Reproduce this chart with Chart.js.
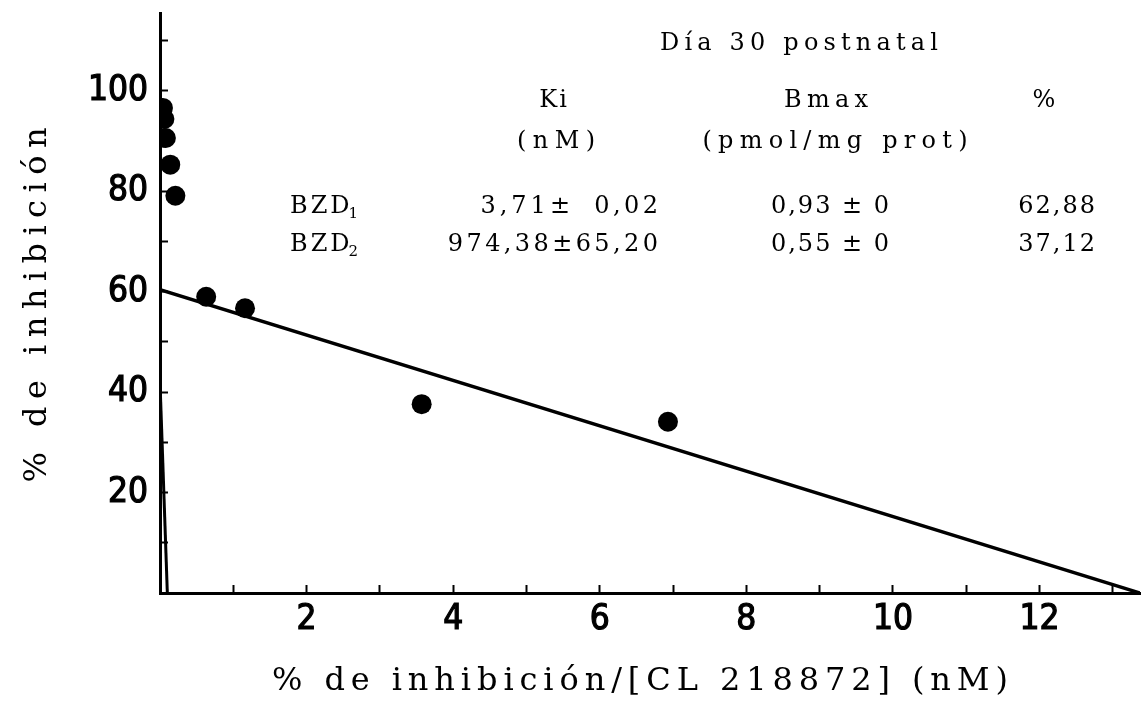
<!DOCTYPE html>
<html><head><meta charset="utf-8">
<script src="https://cdn.jsdelivr.net/npm/chart.js@4.4.1/dist/chart.umd.min.js"></script>
<style>html,body{margin:0;padding:0;background:#fff;overflow:hidden}canvas{display:block}</style>
</head><body>
<canvas id="c" width="1142" height="721"></canvas>
<script>
// ---- data ----
const xTitle = '% de inhibición/[CL 218872] (nM)';
const yTitle = '% de inhibición';
const pointX = [0.04, 0.06, 0.08, 0.14, 0.21, 0.63, 1.16, 3.57, 6.93];
const pointY = [96.6, 94.4, 90.6, 85.3, 79.1, 59.0, 56.7, 37.6, 34.1];
const fitHighX = [0, 13.37];
const fitHighY = [60.4, 0];
const fitLowX = [0, 0.1];
const fitLowY = [42, 0];
const xRange = [0, 13.37];
const yRange = [0, 115.5];
const xLabelTicks = [2, 4, 6, 8, 10, 12];
const yLabelTicks = [20, 40, 60, 80, 100];
const tableTitle = 'Día 30 postnatal';
const colHeads = ['Ki', 'Bmax', '%'];
const colUnits = ['(nM)', '(pmol/mg prot)', ''];
const rowNames = ['BZD', 'BZD'];
const rowSubs = ['1', '2'];
const kiVals = ['3,71± 0,02', '974,38±65,20'];
const bmaxVals = ['0,93 ± 0', '0,55 ± 0'];
const pctVals = ['62,88', '37,12'];

const toXY = (xs, ys) => xs.map((x, i) => ({x, y: ys[i]}));
const tickFont = {family: "'Liberation Sans Narrow', 'DejaVu Sans Condensed', 'DejaVu Sans'", size: 35};

function spacedText(ctx, str, x, y, width, align, fixedSpacing) {
  ctx.letterSpacing = '0px';
  const w = ctx.measureText(str).width;
  const n = [...str].length;
  let s = fixedSpacing || 0;
  if (width) s = Math.max(0, (width - w) / Math.max(1, n - 1));
  ctx.letterSpacing = s + 'px';
  const total = w + s * (n - 1);
  let left = x;
  if (align === 'center') left = x - total / 2;
  else if (align === 'right') left = x - total;
  ctx.textAlign = 'left';
  ctx.fillText(str, left, y);
  ctx.letterSpacing = '0px';
  return left + total;
}

const textPlugin = {
  id: 'texts',
  afterDraw(chart) {
    const ctx = chart.ctx;
    ctx.save();
    ctx.fillStyle = '#000';
    ctx.textBaseline = 'alphabetic';
    ctx.font = '32px "DejaVu Serif"';
    spacedText(ctx, xTitle, 640, 690, 736, 'center');
    ctx.save();
    ctx.translate(46, 305);
    ctx.rotate(-Math.PI / 2);
    spacedText(ctx, yTitle, 0, 0, 355, 'center');
    ctx.restore();

    const sp = 3.4;
    ctx.font = '24px "DejaVu Serif"';
    spacedText(ctx, tableTitle, 799, 50, 278, 'center');
    spacedText(ctx, colHeads[0], 553, 107, 0, 'center', 2);
    spacedText(ctx, colHeads[1], 826, 107, 84, 'center');
    spacedText(ctx, colHeads[2], 1044, 107, 0, 'center', 2);
    spacedText(ctx, colUnits[0], 556, 148, 78, 'center');
    spacedText(ctx, colUnits[1], 835, 148, 265, 'center');
    const rowBase = [213, 251];
    for (let i = 0; i < 2; i++) {
      ctx.font = '24px "DejaVu Serif"';
      const end = spacedText(ctx, rowNames[i], 290, rowBase[i], 0, 'left', 3);
      ctx.font = '15px "DejaVu Serif"';
      ctx.textAlign = 'left';
      ctx.fillText(rowSubs[i], end - 1, rowBase[i] + 5);
      ctx.font = '24px "DejaVu Serif"';
      const ki = kiVals[i];
      const cut = ki.indexOf(' ');
      if (cut > 0) {
        spacedText(ctx, ki.slice(0, cut), 570, rowBase[i], 0, 'right', 4);
        spacedText(ctx, ki.slice(cut + 1), 658, rowBase[i], 0, 'right', sp);
      } else {
        spacedText(ctx, ki, 658, rowBase[i], 0, 'right', sp);
      }
      spacedText(ctx, bmaxVals[i], 830, rowBase[i], 0, 'center', 2);
      spacedText(ctx, pctVals[i], 1095, rowBase[i], 0, 'right', 2);
    }
    ctx.restore();
  }
};

new Chart(document.getElementById('c'), {
  type: 'scatter',
  data: {
    datasets: [
      {data: toXY(fitHighX, fitHighY), showLine: true, borderColor: '#000', borderWidth: 3.5, pointRadius: 0, fill: false},
      {data: toXY(fitLowX, fitLowY), showLine: true, borderColor: '#000', borderWidth: 3, pointRadius: 0, fill: false},
      {data: toXY(pointX, pointY), showLine: false, pointRadius: 10, pointBackgroundColor: '#000', pointBorderColor: '#000', pointBorderWidth: 0,
       clip: {left: 0, top: false, right: false, bottom: false}}
    ]
  },
  options: {
    responsive: false,
    animation: false,
    devicePixelRatio: 1,
    layout: {autoPadding: false, padding: {top: 13, right: 2, left: 0, bottom: 0}},
    plugins: {legend: {display: false}, tooltip: {enabled: false}},
    scales: {
      x: {
        type: 'linear', position: 'bottom', min: xRange[0], max: xRange[1],
        afterFit: s => { s.height = 128; s.paddingLeft = 0; s.paddingRight = 0; },
        ticks: {stepSize: 1, includeBounds: false, autoSkip: false, maxRotation: 0, color: '#000', font: tickFont, padding: 14,
          textStrokeColor: '#000', textStrokeWidth: 1.2,
          callback: v => xLabelTicks.includes(v) ? String(v) : ''},
        grid: {drawOnChartArea: false, tickLength: -8, tickWidth: 2, color: '#000'},
        border: {color: '#000', width: 3}
      },
      y: {
        type: 'linear', position: 'left', min: yRange[0], max: yRange[1],
        afterFit: s => { s.width = 160; s.paddingTop = 0; s.paddingBottom = 0; },
        ticks: {stepSize: 10, includeBounds: false, autoSkip: false, color: '#000', font: tickFont, padding: 20,
          textStrokeColor: '#000', textStrokeWidth: 1.2,
          callback: v => yLabelTicks.includes(v) ? String(v) : ''},
        grid: {drawOnChartArea: false, tickLength: -8, tickWidth: 2, color: '#000'},
        border: {color: '#000', width: 3}
      }
    }
  },
  plugins: [textPlugin]
});
</script>
</body></html>
